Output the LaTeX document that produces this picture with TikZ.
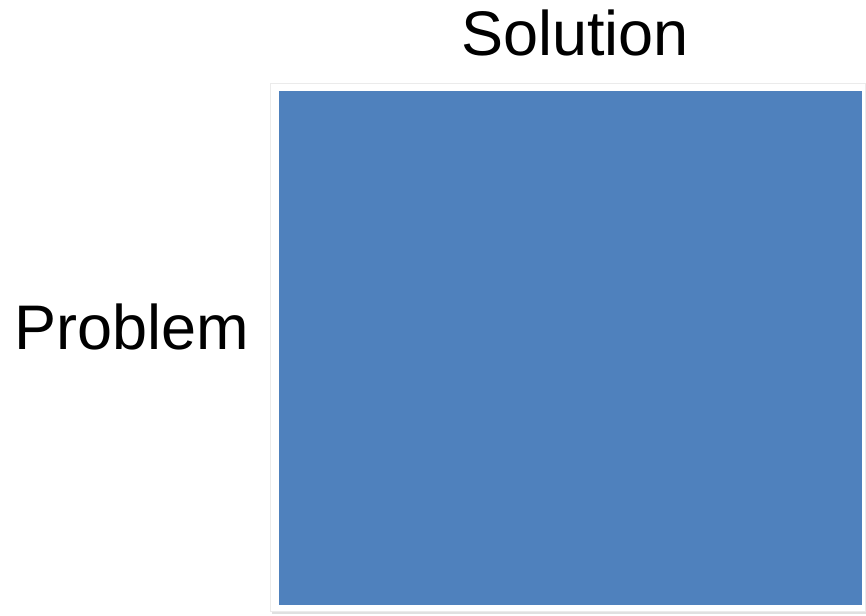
\documentclass[tikz,border=0pt]{standalone}
\usepackage{fontspec}
\setmainfont{Liberation Sans}
\usetikzlibrary{shadows}
\definecolor{blueA}{HTML}{4F81BD}
\tikzset{lbl/.style={font=\fontsize{63}{70}\selectfont, inner sep=0pt}}
\begin{document}
\begin{tikzpicture}[x=1pt,y=-1pt]
\useasboundingbox (0,0) rectangle (866,615);
\fill[black!12] (272,86) rectangle (866,614);
\node[draw=black!8, fill=white, line width=0.5pt, minimum width=595pt, minimum height=528pt, inner sep=0pt, anchor=north west] (frame) at (270,83) {};
\node[fill=blueA, minimum width=583pt, minimum height=514pt, inner sep=0pt, anchor=north west] (sq) at (279,91) {};
\node[lbl, anchor=base] (sol) at (575,56) {Solution};
\node[lbl, anchor=base] (prob) at (132,349) {Problem};
\end{tikzpicture}
\end{document}
